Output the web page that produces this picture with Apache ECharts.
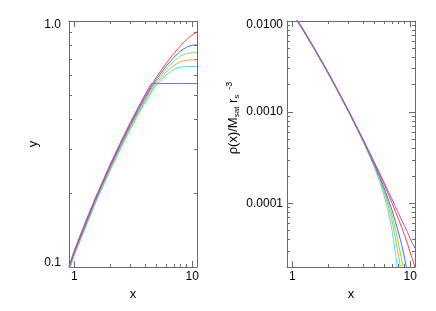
<!DOCTYPE html>
<html><head><meta charset="utf-8">
<script src="https://cdn.jsdelivr.net/npm/echarts@6/dist/echarts.min.js"></script>
<style>html,body{margin:0;padding:0;background:#fff}#c{width:436px;height:311px}</style>
</head><body><div id="c"></div>
<script>
// ---------- data ----------
const xLeft = [0.9, 1, 1.25, 1.5, 2, 2.5, 3, 3.5, 4, 4.5, 5, 6, 7, 8, 9, 10, 11];
const yLeftPurple = [0.101, 0.117, 0.154, 0.190, 0.260, 0.326, 0.389, 0.448, 0.504, 0.557, 0.557, 0.557, 0.557, 0.557, 0.557, 0.557, 0.557];
const yLeftRed    = [0.100, 0.116, 0.152, 0.188, 0.257, 0.322, 0.384, 0.442, 0.497, 0.548, 0.594, 0.672, 0.738, 0.795, 0.842, 0.878, 0.902];
const yLeftBlue   = [0.099, 0.115, 0.150, 0.186, 0.254, 0.318, 0.379, 0.436, 0.489, 0.538, 0.582, 0.655, 0.712, 0.756, 0.784, 0.797, 0.800];
const yLeftGreen  = [0.098, 0.114, 0.148, 0.184, 0.251, 0.314, 0.374, 0.430, 0.482, 0.529, 0.571, 0.638, 0.688, 0.721, 0.738, 0.743, 0.744];
const yLeftOrange = [0.097, 0.113, 0.147, 0.182, 0.248, 0.310, 0.369, 0.424, 0.475, 0.520, 0.559, 0.620, 0.660, 0.684, 0.693, 0.695, 0.695];
const yLeftCyan   = [0.096, 0.112, 0.145, 0.180, 0.245, 0.306, 0.364, 0.418, 0.467, 0.511, 0.549, 0.603, 0.636, 0.650, 0.653, 0.653, 0.653];

const xRight = [1, 1.1, 1.25, 1.5, 2, 2.5, 3, 3.5, 4, 4.5, 5, 5.5, 6, 6.5, 7, 7.5, 8, 8.5, 9, 9.5, 10, 10.5, 11];
const rhoPurple = [0.0125, 0.01031, 0.00790, 0.00533, 0.00278, 0.00163, 0.00104, 0.000705, 0.000500, 0.000367, 0.000278, 0.000215, 0.000170, 0.000137, 0.000112, 9.2e-5, 7.7e-5, 6.5e-5, 5.6e-5, 4.8e-5, 4.1e-5, 3.6e-5, 3.2e-5];
const rhoRed    = [0.01238, 0.01021, 0.00782, 0.00528, 0.00275, 0.00161, 0.00103, 0.000698, 0.000495, 0.000361, 0.000272, 0.000209, 0.000162, 0.000128, 0.000102, 8.1e-5, 6.6e-5, 5.4e-5, 4.4e-5, 3.6e-5, 2.9e-5, 2.4e-5, 1.98e-5];
const rhoBlue   = [0.01225, 0.0101, 0.00774, 0.00522, 0.00272, 0.00160, 0.00102, 0.000687, 0.000485, 0.000352, 0.000261, 0.000196, 0.000148, 0.000112, 8.5e-5, 6.3e-5, 4.7e-5, 3.45e-5, 2.46e-5, 1.73e-5, 1.15e-5];
const rhoGreen  = [0.01219, 0.01005, 0.00770, 0.00520, 0.00271, 0.00159, 0.00101, 0.000684, 0.000480, 0.000347, 0.000256, 0.000189, 0.000141, 0.000104, 7.5e-5, 5.2e-5, 3.5e-5, 2.34e-5, 1.5e-5];
const rhoOrange = [0.01213, 0.0100, 0.00766, 0.00517, 0.00270, 0.00158, 0.00101, 0.000680, 0.000475, 0.000341, 0.000250, 0.000183, 0.000133, 9.5e-5, 6.5e-5, 4.2e-5, 2.6e-5, 1.56e-5];
const rhoCyan   = [0.01206, 0.00995, 0.00762, 0.00514, 0.00268, 0.00157, 0.00100, 0.000673, 0.000470, 0.000334, 0.000242, 0.000174, 0.000122, 8.2e-5, 5.2e-5, 2.85e-5, 1.46e-5];

const xTickValues = [1, 10];
const xTickLabels = ['1', '10'];
const yLeftTickValues = [0.1, 1.0];
const yLeftTickLabels = ['0.1', '1.0'];
const yRightTickValues = [0.0001, 0.001, 0.01];
const yRightTickLabels = ['0.0001', '0.0010', '0.0100'];

// ---------- styling ----------
const COLORS = {purple:'#9a5ce0', red:'#ff4040', blue:'#6060ff', green:'#60f060', orange:'#ffa040', cyan:'#30f0f0'};
const AX = '#6a6a6a';
const FONT = 'Liberation Sans';

function minorTicks(lo, hi) {
  const out = [];
  for (let e = lo; e < hi; e++) for (let k = 2; k <= 9; k++) out.push(+(k * Math.pow(10, e)).toPrecision(3));
  return out;
}
function nearestLabel(v, vals, labs) {
  let best = 0, d = Infinity;
  vals.forEach((t, i) => { const dd = Math.abs(Math.log10(v) - Math.log10(t)); if (dd < d) { d = dd; best = i; } });
  return labs[best];
}
function xAxes(grid) {
  const base = {type:'log', logBase:10, gridIndex:grid, min:0.9, max:11, splitLine:{show:false}, minorTick:{show:false}};
  return [
    Object.assign({}, base, {position:'bottom',
      axisLine:{show:true, lineStyle:{color:AX, width:1}},
      axisTick:{show:true, inside:true, length:6, customValues:xTickValues, lineStyle:{color:AX}},
      axisLabel:{show:true, customValues:xTickValues, margin:4, color:'#000', fontFamily:FONT, fontSize:12,
        formatter:v => nearestLabel(v, xTickValues, xTickLabels)},
      name:'x', nameLocation:'middle', nameGap:19, nameTextStyle:{color:'#000', fontFamily:FONT, fontSize:13}}),
    Object.assign({}, base, {position:'bottom',
      axisLine:{show:false}, axisLabel:{show:false},
      axisTick:{show:true, inside:true, length:3, customValues:minorTicks(-1, 1), lineStyle:{color:AX}}}),
    Object.assign({}, base, {position:'top',
      axisLine:{show:true, lineStyle:{color:AX, width:1}}, axisLabel:{show:false},
      axisTick:{show:true, inside:true, length:6, customValues:xTickValues, lineStyle:{color:AX}}}),
    Object.assign({}, base, {position:'top',
      axisLine:{show:false}, axisLabel:{show:false},
      axisTick:{show:true, inside:true, length:3, customValues:minorTicks(-1, 1), lineStyle:{color:AX}}})
  ];
}
function yAxes(grid, min, max, vals, labs, minors, margin, name, nameGap, nameStyle) {
  const base = {type:'log', logBase:10, gridIndex:grid, min:min, max:max, splitLine:{show:false}, minorTick:{show:false}};
  const fmt = v => {
    const lab = nearestLabel(v, vals, labs);
    const i = labs.indexOf(lab);
    if (i === vals.length - 1) return '{t|' + lab + '}';
    if (i === 0 && Math.abs(Math.log10(vals[0]) - Math.log10(min)) < 1e-6) return '{b|' + lab + '}';
    return '{m|' + lab + '}';
  };
  const rich = {t:{fontFamily:FONT, fontSize:12, color:'#000', padding:[8,0,0,0]},
                b:{fontFamily:FONT, fontSize:12, color:'#000', padding:[0,0,8,0]},
                m:{fontFamily:FONT, fontSize:12, color:'#000'}};
  return [
    Object.assign({}, base, {position:'left',
      axisLine:{show:true, lineStyle:{color:AX, width:1}},
      axisTick:{show:true, inside:true, length:6, customValues:vals, lineStyle:{color:AX}},
      axisLabel:{show:true, customValues:vals, margin:margin, formatter:fmt, rich:rich},
      name:name, nameLocation:'middle', nameRotate:90, nameGap:nameGap, nameTextStyle:nameStyle}),
    Object.assign({}, base, {position:'left',
      axisLine:{show:false}, axisLabel:{show:false},
      axisTick:{show:true, inside:true, length:3, customValues:minors, lineStyle:{color:AX}}}),
    Object.assign({}, base, {position:'right',
      axisLine:{show:true, lineStyle:{color:AX, width:1}}, axisLabel:{show:false},
      axisTick:{show:true, inside:true, length:6, customValues:vals, lineStyle:{color:AX}}}),
    Object.assign({}, base, {position:'right',
      axisLine:{show:false}, axisLabel:{show:false},
      axisTick:{show:true, inside:true, length:3, customValues:minors, lineStyle:{color:AX}}})
  ];
}

function line(xs, ys, color, xi, yi) {
  const data = [];
  ys.forEach((y, i) => data.push([xs[i], y]));
  return {type:'line', xAxisIndex:xi, yAxisIndex:yi, data:data, showSymbol:false, symbol:'none',
    clip:true, lineStyle:{color:color, width:1}, itemStyle:{color:color}, silent:true, animation:false};
}

const option = {
  animation:false,
  backgroundColor:'#fff',
  grid:[
    {left:69, top:21, width:128, height:246, containLabel:false},
    {left:287, top:21, width:128, height:246, containLabel:false}
  ],
  xAxis: xAxes(0).concat(xAxes(1)),
  yAxis: yAxes(0, 0.1, 1.0, yLeftTickValues, yLeftTickLabels, minorTicks(-1, 0), 8,
                'y', 27, {color:'#000', fontFamily:FONT, fontSize:13})
        .concat(yAxes(1, 2e-5, 0.01, yRightTickValues, yRightTickLabels, minorTicks(-5, -2), 4,
                '{a|ρ(x)/M}{b|sat}{a| r}{b|s}{c|  -3}', 46,
                {color:'#000', fontFamily:FONT, fontSize:13, padding:[0,0,0,52],
                 rich:{a:{fontFamily:FONT, fontSize:13, color:'#000'},
                       b:{fontFamily:FONT, fontSize:8, color:'#000', verticalAlign:'bottom', padding:[6,0,0,0]},
                       c:{fontFamily:FONT, fontSize:9, color:'#000', verticalAlign:'top', padding:[0,0,7,0]}}})),
  series:[
    line(xLeft, yLeftCyan, COLORS.cyan, 0, 0),
    line(xLeft, yLeftOrange, COLORS.orange, 0, 0),
    line(xLeft, yLeftGreen, COLORS.green, 0, 0),
    line(xLeft, yLeftBlue, COLORS.blue, 0, 0),
    line(xLeft, yLeftRed, COLORS.red, 0, 0),
    line(xLeft, yLeftPurple, COLORS.purple, 0, 0),
    line(xRight, rhoCyan, COLORS.cyan, 4, 4),
    line(xRight, rhoOrange, COLORS.orange, 4, 4),
    line(xRight, rhoGreen, COLORS.green, 4, 4),
    line(xRight, rhoBlue, COLORS.blue, 4, 4),
    line(xRight, rhoRed, COLORS.red, 4, 4),
    line(xRight, rhoPurple, COLORS.purple, 4, 4)
  ]
};
const chart = echarts.init(document.getElementById('c'), null, {renderer:'canvas'});
chart.setOption(option);
</script>
</body></html>
